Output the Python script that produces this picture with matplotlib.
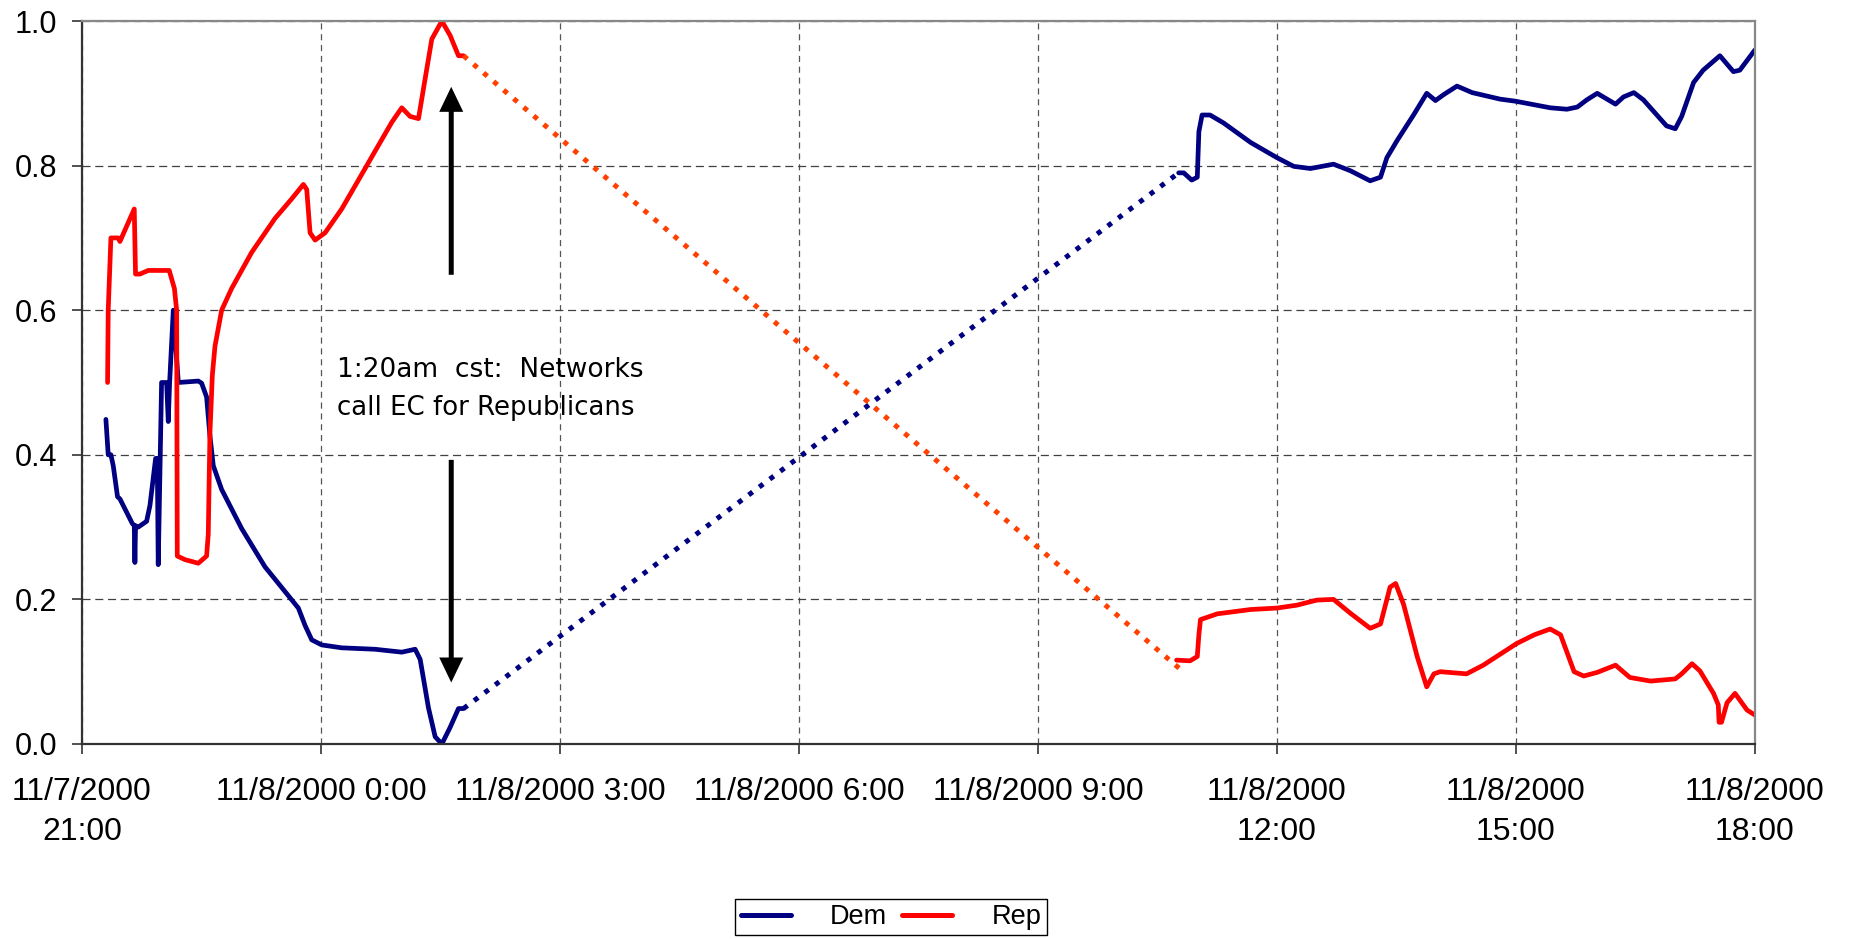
import matplotlib
matplotlib.use('Agg')
import matplotlib.pyplot as plt
from matplotlib.lines import Line2D

plt.rcParams['lines.scale_dashes'] = False

# time axis: hours after 11/7/2000 21:00
xtick_pos = [0, 3, 6, 9, 12, 15, 18, 21]
xtick_labels = ["11/7/2000\n21:00", "11/8/2000 0:00", "11/8/2000 3:00", "11/8/2000 6:00",
                "11/8/2000 9:00", "11/8/2000\n12:00", "11/8/2000\n15:00", "11/8/2000\n18:00"]
ytick_pos = [0.0, 0.2, 0.4, 0.6, 0.8, 1.0]
ytick_labels = ["0.0", "0.2", "0.4", "0.6", "0.8", "1.0"]

# Dem, evening section (solid)
dem_t1 = [0.300, 0.329, 0.363, 0.392, 0.446, 0.476, 0.631, 0.656, 0.664, 0.672, 0.706, 0.811,
          0.853, 0.924, 0.945, 0.957, 0.999, 1.062, 1.083, 1.100, 1.146, 1.209, 1.460, 1.502,
          1.564, 1.606, 1.648, 1.753, 2.004, 2.297, 2.716, 2.800, 2.884, 3.009, 3.260, 3.679,
          4.014, 4.182, 4.245, 4.349, 4.433, 4.517, 4.621, 4.726, 4.789]
dem_v1 = [0.449, 0.400, 0.400, 0.385, 0.342, 0.339, 0.305, 0.302, 0.251, 0.302, 0.300, 0.308,
          0.330, 0.395, 0.395, 0.248, 0.500, 0.500, 0.446, 0.500, 0.600, 0.500, 0.502, 0.499,
          0.480, 0.426, 0.385, 0.352, 0.298, 0.245, 0.188, 0.164, 0.144, 0.137, 0.133, 0.131,
          0.127, 0.131, 0.117, 0.050, 0.010, 0.000, 0.023, 0.049, 0.049]
# Dem, overnight gap (dotted)
dem_t_gap = [4.789, 13.766]
dem_v_gap = [0.049, 0.790]
# Dem, daytime section (solid)
dem_t2 = [13.766, 13.83, 13.93, 14.00, 14.02, 14.06, 14.16, 14.33, 14.67, 15.00, 15.21, 15.42,
          15.71, 15.92, 16.17, 16.30, 16.38, 16.51, 16.72, 16.88, 16.99, 17.09, 17.26, 17.45,
          17.80, 18.00, 18.43, 18.64, 18.77, 18.89, 19.02, 19.25, 19.35, 19.48, 19.60, 19.89,
          20.00, 20.08, 20.23, 20.35, 20.56, 20.73, 20.81, 21.00]
dem_v2 = [0.790, 0.790, 0.780, 0.784, 0.847, 0.870, 0.870, 0.859, 0.832, 0.811, 0.799, 0.796,
          0.802, 0.793, 0.779, 0.784, 0.811, 0.835, 0.871, 0.900, 0.890, 0.898, 0.910, 0.901,
          0.892, 0.889, 0.880, 0.878, 0.881, 0.891, 0.900, 0.885, 0.895, 0.901, 0.891, 0.855,
          0.851, 0.868, 0.915, 0.932, 0.952, 0.930, 0.932, 0.960]

# Rep, evening section (solid)
rep_t1 = [0.321, 0.329, 0.363, 0.455, 0.476, 0.656, 0.672, 0.727, 0.832, 1.095, 1.160, 1.188,
          1.196, 1.292, 1.460, 1.564, 1.585, 1.606, 1.636, 1.669, 1.753, 1.878, 2.130, 2.423,
          2.632, 2.779, 2.821, 2.863, 2.926, 3.051, 3.260, 3.470, 3.679, 3.889, 4.014, 4.119,
          4.224, 4.307, 4.391, 4.517, 4.621, 4.726, 4.789]
rep_v1 = [0.500, 0.600, 0.700, 0.700, 0.695, 0.740, 0.650, 0.650, 0.655, 0.655, 0.630, 0.600,
          0.260, 0.255, 0.250, 0.260, 0.290, 0.430, 0.510, 0.550, 0.600, 0.630, 0.680, 0.727,
          0.754, 0.774, 0.767, 0.707, 0.697, 0.707, 0.740, 0.780, 0.820, 0.860, 0.880, 0.868,
          0.865, 0.920, 0.975, 1.000, 0.980, 0.952, 0.952]
# Rep, overnight gap (dotted)
rep_t_gap = [4.789, 13.78]
rep_v_gap = [0.952, 0.104]
# Rep, daytime section (solid)
rep_t2 = [13.74, 13.91, 14.00, 14.02, 14.04, 14.25, 14.67, 15.00, 15.25, 15.50, 15.71, 15.92,
          16.17, 16.30, 16.42, 16.49, 16.59, 16.76, 16.88, 16.97, 17.05, 17.38, 17.59, 18.01,
          18.23, 18.43, 18.56, 18.64, 18.73, 18.85, 19.02, 19.25, 19.43, 19.69, 20.00, 20.08,
          20.21, 20.31, 20.48, 20.54, 20.55, 20.58, 20.65, 20.75, 20.90, 21.00]
rep_v2 = [0.116, 0.115, 0.121, 0.151, 0.172, 0.180, 0.186, 0.188, 0.192, 0.199, 0.200, 0.181,
          0.160, 0.166, 0.217, 0.222, 0.193, 0.121, 0.079, 0.097, 0.100, 0.097, 0.109, 0.139,
          0.151, 0.159, 0.151, 0.127, 0.100, 0.094, 0.099, 0.109, 0.092, 0.087, 0.090, 0.097,
          0.111, 0.101, 0.070, 0.054, 0.030, 0.030, 0.057, 0.070, 0.047, 0.040]

series_names = ["Dem", "Rep"]
note_lines = ["1:20am  cst:  Networks", "call EC for Republicans"]

DEM = '#000080'
REP = '#FF0000'
REP_DOT = '#FF4000'

fig = plt.figure(figsize=(18.51, 9.39), dpi=100)
ax = fig.add_axes([0.0443, 0.2077, 0.9038, 0.7699])

lw = 3.4
solid_kw = dict(lw=lw, solid_capstyle='round', solid_joinstyle='round')
dot_kw = dict(lw=3.6, linestyle=(0, (3.6, 5.9)), dash_capstyle='butt')

ax.plot(dem_t1, dem_v1, color=DEM, **solid_kw)
ax.plot(dem_t_gap, dem_v_gap, color=DEM, **dot_kw)
ax.plot(dem_t2, dem_v2, color=DEM, **solid_kw)
ax.plot(rep_t1, rep_v1, color=REP, **solid_kw)
ax.plot(rep_t_gap, rep_v_gap, color=REP_DOT, **dot_kw)
ax.plot(rep_t2, rep_v2, color=REP, **solid_kw)

ax.set_xlim(0, 21)
ax.set_ylim(0, 1)
ax.set_xticks(xtick_pos)
ax.set_xticklabels(xtick_labels, fontsize=23, family='Liberation Sans', linespacing=1.4)
ax.set_yticks(ytick_pos)
ax.set_yticklabels(ytick_labels, fontsize=22, family='Liberation Sans')
ax.tick_params(axis='x', length=7, width=1.2, color='#333333', pad=17)
ax.tick_params(axis='y', length=7, width=1.2, color='#333333', pad=11)

ax.set_axisbelow(True)
ax.yaxis.grid(True, color='#404040', lw=0.9, linestyle=(0, (5.8, 3.4)))
ax.xaxis.grid(True, color='#555555', lw=0.9, linestyle=(0, (4.4, 3.4)))

for s in ['left', 'bottom']:
    ax.spines[s].set_color('#333333')
    ax.spines[s].set_linewidth(1.6)
for s in ['top', 'right']:
    ax.spines[s].set_color('#888888')
    ax.spines[s].set_linewidth(1.6)

# arrows (vertical), sizes in data units
px_x = 21 / 1673.0
px_y = 1 / 722.5
arrow_x = 4.635
for y0, y1 in [(0.649, 0.909), (0.393, 0.085)]:
    ax.arrow(arrow_x, y0, 0, y1 - y0, width=5 * px_x, head_width=24 * px_x,
             head_length=25 * px_y, length_includes_head=True, color='black', lw=0)

ax.text(3.197, 0.508, note_lines[0], fontsize=19, family='DejaVu Sans', va='baseline', ha='left')
ax.text(3.197, 0.4547, note_lines[1], fontsize=18.7, family='DejaVu Sans', va='baseline', ha='left')

handles = [Line2D([0], [0], color=DEM, lw=3.6, solid_capstyle='round'),
           Line2D([0], [0], color=REP, lw=3.6, solid_capstyle='round')]
leg = fig.legend(handles, series_names, loc='center', bbox_to_anchor=(0.4814, 0.0234), ncol=2,
                 prop={'family': 'Liberation Sans', 'size': 19.5}, frameon=True, fancybox=False,
                 edgecolor='black', framealpha=1, handlelength=1.85, handletextpad=1.45,
                 columnspacing=0.55, borderpad=0.2)
leg.get_frame().set_linewidth(1.0)

fig.savefig('out.png', dpi=100)
